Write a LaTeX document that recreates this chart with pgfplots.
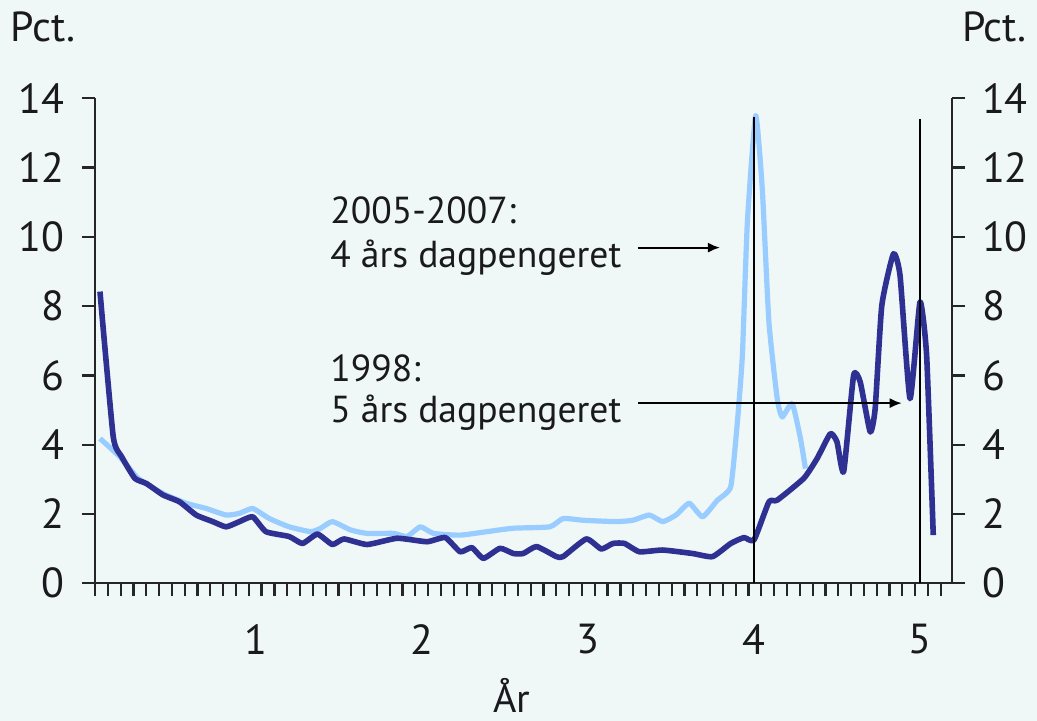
\documentclass[border=0pt]{standalone}
\usepackage{fontspec}
\setmainfont{PT Sans}
\usepackage{pgfplots}
\pgfplotsset{compat=1.18}
\usetikzlibrary{arrows.meta}
\definecolor{bg}{RGB}{240,247,247}
\definecolor{darkline}{RGB}{46,49,146}
\definecolor{lightline}{RGB}{153,204,255}
\definecolor{txt}{RGB}{25,25,30}

\pgfplotstableread{
x y
0.06 8.42
0.14 4.23
0.19 3.66
0.27 3.03
0.34 2.88
0.44 2.55
0.54 2.35
0.64 1.97
0.74 1.78
0.82 1.63
0.90 1.78
0.98 1.92
1.06 1.49
1.20 1.35
1.28 1.15
1.37 1.42
1.46 1.12
1.53 1.28
1.67 1.12
1.85 1.30
2.03 1.20
2.14 1.32
2.23 0.91
2.30 1.03
2.37 0.72
2.47 1.01
2.55 0.86
2.61 0.86
2.69 1.06
2.81 0.77
2.85 0.77
2.99 1.28
3.08 0.99
3.15 1.15
3.22 1.15
3.31 0.91
3.45 0.96
3.63 0.86
3.75 0.77
3.86 1.15
3.94 1.32
4.00 1.25
4.09 2.35
4.14 2.40
4.30 3.03
4.38 3.60
4.46 4.32
4.50 4.08
4.54 3.22
4.60 6.00
4.64 5.81
4.70 4.37
4.73 5.04
4.77 8.02
4.84 9.51
4.88 8.88
4.94 5.33
5.00 8.12
5.04 6.58
5.08 1.39
}\dataA

\pgfplotstableread{
x y
0.06 4.18
0.18 3.65
0.29 3.03
0.44 2.59
0.58 2.31
0.70 2.16
0.82 1.97
0.90 2.02
0.98 2.16
1.08 1.87
1.20 1.63
1.33 1.49
1.39 1.59
1.46 1.78
1.57 1.54
1.67 1.44
1.83 1.44
1.91 1.35
1.99 1.63
2.07 1.44
2.23 1.39
2.39 1.49
2.55 1.59
2.77 1.63
2.85 1.87
2.97 1.82
3.17 1.78
3.27 1.82
3.37 1.97
3.45 1.78
3.53 1.97
3.61 2.31
3.69 1.92
3.78 2.40
3.86 2.79
3.90 4.66
3.93 6.58
3.96 10.42
4.01 13.5
4.05 11.38
4.09 7.54
4.14 5.33
4.17 4.80
4.23 5.19
4.28 4.18
4.31 3.31
}\dataB

\begin{document}
\begin{tikzpicture}
\useasboundingbox[fill=bg] (-47.5pt,-68.85pt) rectangle (471pt,291.65pt);
\pgfplotsset{
  common/.style={
    at={(0,0)}, anchor=south west, scale only axis,
    width=428.5pt, height=242.5pt,
    xmin=0.0301, xmax=5.193, ymin=0, ymax=14,
    axis line style={line width=1.2pt, black!85, -},
    tick align=outside, major tick length=6.5pt,
    tick style={line width=1.1pt, black!85},
    ytick={0,2,...,14},
    /pgf/number format/assume math mode=true,
    ticklabel style={font=\fontsize{21}{25}\selectfont, text=txt},
    clip=false,
  }
}
\begin{axis}[common,
  axis x line*=bottom, axis y line*=left,
  xtick={0.0301,0.1073,...,5.13},
  xticklabels={},
  extra x ticks={1,2,3,4,5},
  extra x tick labels={1,2,3,4,5},
  extra x tick style={major tick length=0pt, tick style={draw=none}},
  xticklabel style={yshift=-17pt},
  yticklabel style={xshift=-5.5pt},
]
\addplot[lightline, line width=2.6pt, line join=round, smooth, tension=0.3] table[x=x,y=y] {\dataB};
\addplot[darkline, line width=2.8pt, line join=round, smooth, tension=0.3] table[x=x,y=y] {\dataA};
\draw[line width=0.9pt, black] (axis cs:4,0) -- (axis cs:4,13.45);
\draw[line width=0.9pt, black] (axis cs:5,0) -- (axis cs:5,13.4);
\draw[line width=0.9pt, black, -{Latex[length=6pt,width=5pt]}] (axis cs:3.30,9.69) -- (axis cs:3.795,9.69);
\draw[line width=0.9pt, black, -{Latex[length=6pt,width=5pt]}] (axis cs:3.30,5.20) -- (axis cs:4.89,5.20);
\node[anchor=base west, inner sep=0, text=txt, font=\fontsize{18.8}{22}\selectfont] at (axis cs:1.446,10.40) {2005-2007:};
\node[anchor=base west, inner sep=0, text=txt, font=\fontsize{18.8}{22}\selectfont] at (axis cs:1.446,9.13) {4 års dagpengeret};
\node[anchor=base west, inner sep=0, text=txt, font=\fontsize{18.8}{22}\selectfont] at (axis cs:1.446,5.82) {1998:};
\node[anchor=base west, inner sep=0, text=txt, font=\fontsize{18.8}{22}\selectfont] at (axis cs:1.446,4.63) {5 års dagpengeret};
\end{axis}
\begin{axis}[common,
  axis x line=none, axis y line*=right,
  yticklabel style={xshift=5pt},
]
\end{axis}
\node[anchor=base west, inner sep=0, text=txt, font=\fontsize{21}{25}\selectfont] at (-42.5pt,270.8pt) {Pct.};
\node[anchor=base west, inner sep=0, text=txt, font=\fontsize{21}{25}\selectfont] at (433.3pt,270.8pt) {Pct.};
\node[anchor=base, inner sep=0, text=txt, font=\fontsize{20}{24}\selectfont] at (208.5pt,-64.5pt) {År};
\end{tikzpicture}
\end{document}
